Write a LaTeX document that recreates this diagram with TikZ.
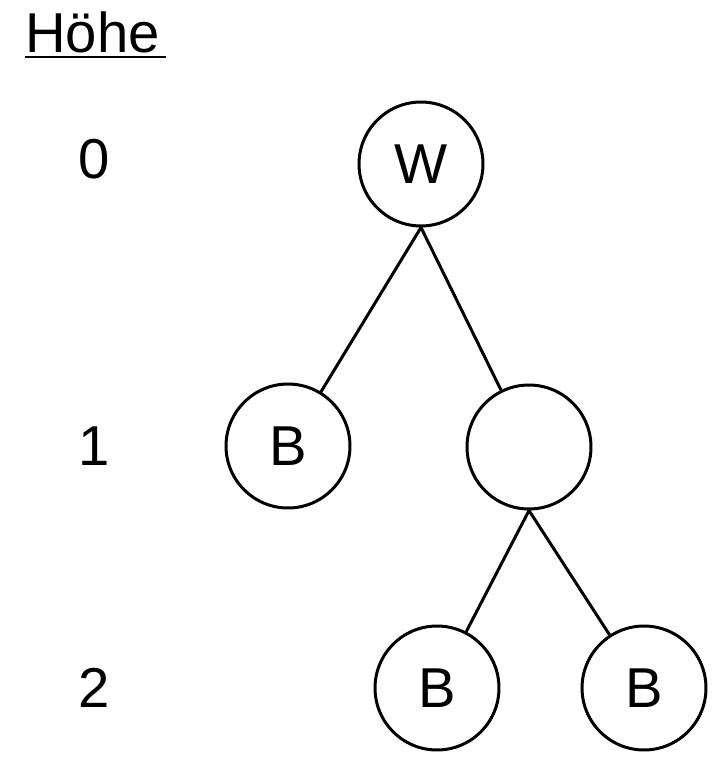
\documentclass[tikz,border=0pt]{standalone}
\usepackage{fontspec}
\setmainfont{Liberation Sans}
\usetikzlibrary{positioning}

\begin{document}
\begin{tikzpicture}[x=0.02cm,y=-0.02cm,
  knoten/.style={circle,draw,line width=0.06cm,minimum size=2.48cm,inner sep=0pt},
  kante/.style={line width=0.06cm},
  every node/.append style={font=\fontsize{32}{38}\selectfont}]
\useasboundingbox (0,0) rectangle (723,757);
\node[knoten] (w) at (421,164) {W}; % root
\node[knoten] (bl) at (288,446) {B}; % left child
\node[knoten] (m) at (529,447) {}; % right child
\node[knoten] (bml) at (437,688) {B}; % lower left
\node[knoten] (bmr) at (644,688) {B}; % lower right
\draw[kante] (w.south) -- (bl);
\draw[kante] (w.south) -- (m);
\draw[kante] (m.south) -- (bml);
\draw[kante] (m.south) -- (bmr);
\node[anchor=base west,inner sep=0pt] (hoehe) at (25,53) {Höhe}; % Hoehe label
\draw[line width=0.05cm] ([yshift=-0.08cm]hoehe.base west) -- ([yshift=-0.08cm,xshift=0.12cm]hoehe.base east);
\node[anchor=base,inner sep=0pt] (h0) at (94,178) {0}; % level 0
\node[anchor=base,inner sep=0pt] (h1) at (94,465) {1}; % level 1
\node[anchor=base,inner sep=0pt] (h2) at (94,707) {2}; % level 2
\end{tikzpicture}
\end{document}
